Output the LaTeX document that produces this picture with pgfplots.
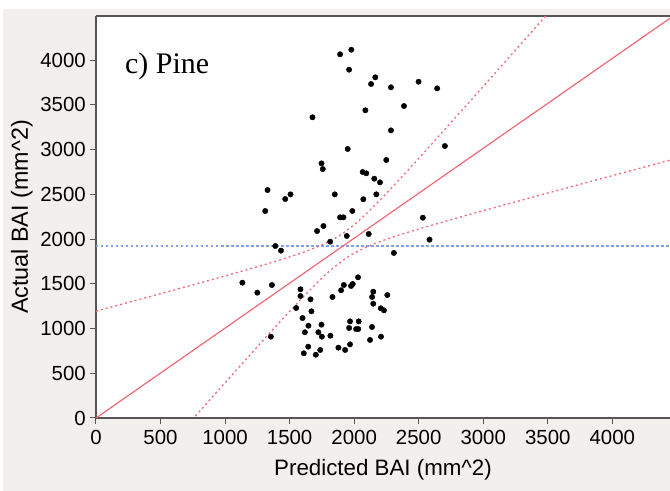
\documentclass[border=0pt]{standalone}
\usepackage{fontspec}
\setmainfont{Liberation Sans}
\newfontfamily\seriffont{Liberation Serif}
\usepackage{pgfplots}
\pgfplotsset{compat=1.18}
\definecolor{bggray}{RGB}{241,240,236}
\definecolor{axiscol}{RGB}{85,85,85}
\definecolor{fitred}{RGB}{240,105,118}
\definecolor{meanblue}{RGB}{130,160,240}
\begin{document}
\begin{tikzpicture}
\path[use as bounding box] (-96bp,-73bp) rectangle (574bp,418bp);
\fill[bggray] (-93bp,-73bp) rectangle (574bp,409bp);
\begin{axis}[
  at={(0,0)}, anchor=south west,
  scale only axis,
  width=574bp, height=402bp,
  xmin=0, xmax=4447, ymin=0, ymax=4492,
  axis background/.style={fill=white},
  axis x line*=bottom, axis y line*=left,
  axis line style={axiscol, line width=1.2bp},
  xtick={0,500,...,4000}, ytick={0,500,...,4000},
  tick align=outside,
  major tick length=6bp,
  every tick/.style={axiscol, line width=1bp},
  scaled ticks=false,
  /pgf/number format/assume math mode=true,
  /pgf/number format/1000 sep={},
  ticklabel style={font=\fontsize{20.5}{24}\selectfont, text=black, inner sep=0pt},
  xticklabel style={anchor=north, yshift=-6bp},
  yticklabel style={anchor=east, xshift=-4bp},
  xlabel={Predicted BAI (mm\^{}2)},
  ylabel={Actual BAI (mm\^{}2)},
  xlabel style={font=\fontsize{22.4}{26}\selectfont, at={(axis description cs:0.5,-0.1418)}, anchor=base, inner sep=0pt},
  ylabel style={font=\fontsize{23.4}{27}\selectfont, at={(axis description cs:-0.1185,0.5)}, anchor=base, rotate=0, inner sep=0pt},
  clip=true,
]
\draw[axiscol, line width=1.2bp] (rel axis cs:0,1) -- (rel axis cs:1,1);
% mean line
\addplot[meanblue, line width=1.5bp, dash pattern=on 2.5bp off 2.5bp] coordinates {(0,1922) (4460,1922)};
% 1:1 line
\addplot[fitred, line width=1.2bp] coordinates {(0,0) (4460,4480)};
% confidence curves
\addplot[fitred, line width=1.3bp, dash pattern=on 2bp off 3bp] coordinates {
(0,1194.0) (420,1357.5) (920,1554.8) (1320,1719.2) (1470,1785.3) (1620,1857.9)
(1770,1945.9) (1845,2001.9) (1920,2070.5) (1995,2153.4) (2070,2248.9) (2220,2463.9)
(2370,2694.3) (2520,2931.2) (2920,3574.8) (3420,4387.5) (3920,5203) (4460,6085)};
\addplot[fitred, line width=1.3bp, dash pattern=on 2bp off 3bp] coordinates {
(0,-1232.4) (420,-547.5) (920,265.2) (1320,908.8) (1470,1145.7) (1620,1376.1)
(1770,1591.1) (1845,1686.6) (1920,1769.5) (1995,1838.2) (2070,1894.1) (2220,1982.1)
(2370,2054.7) (2520,2120.8) (2920,2285.2) (3420,2482.5) (3920,2677) (4460,2885.7)};
% data points
\addplot[only marks, mark=*, mark size=2.7bp, black] coordinates {
(1891,4064) (1978,4115) (1961,3892) (2164,3807) (2131,3732) (2285,3695)
(2499,3758) (2643,3683) (1677,3360) (2087,3438) (2386,3486) (2285,3214)
(1950,3006) (2703,3039) (1747,2845) (1757,2782) (2249,2883) (2066,2749)
(2094,2734) (2156,2674) (2200,2633) (1329,2547) (1507,2499) (1466,2447)
(1850,2499) (2172,2499) (2071,2444) (1311,2313) (1986,2313) (1891,2242)
(1917,2242) (1762,2145) (1713,2089) (1943,2034) (1814,1970) (2113,2056)
(2532,2238) (2584,1993) (2308,1844) (1389,1922) (1433,1870)
(1134,1512) (1250,1400) (1363,1486) (1355,909) (2030,1572) (1989,1497)
(1976,1475) (1920,1486) (1899,1427) (1832,1352) (1584,1438) (1584,1363)
(1662,1326) (1551,1229) (1669,1192) (1600,1117) (1646,1031) (1747,1043)
(1618,958) (1723,958) (1750,909) (1816,920) (2148,1411) (2139,1352)
(2257,1374) (2148,1277) (2206,1226) (2231,1203) (1968,1080) (2035,1080)
(1961,1006) (2015,994) (2032,994) (2138,1017) (2123,872) (2208,909)
(1968,823) (1878,786) (1930,760) (1644,797) (1737,760) (1610,723) (1703,707)};
\node[font=\seriffont\fontsize{30}{34}\selectfont, anchor=base west, inner sep=0pt] at (rel axis cs:0.0505,0.8575) {c) Pine};
\end{axis}
\end{tikzpicture}
\end{document}
